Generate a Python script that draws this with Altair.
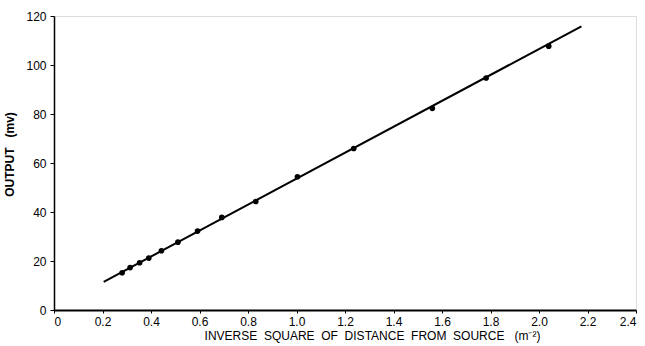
import altair as alt
import pandas as pd

# measured points (x: inverse square distance, y: output mV)
pts_x = [0.281, 0.314, 0.353, 0.391, 0.443, 0.511, 0.592, 0.692, 0.832, 1.004, 1.236, 1.560, 1.782, 2.040]
pts_y = [15.2, 17.3, 19.3, 21.2, 24.2, 27.7, 32.2, 37.8, 44.3, 54.4, 65.9, 82.3, 94.7, 107.7]

# fitted line end points
line_x = [0.205, 2.175]
line_y = [11.5, 115.8]

x_ticks = [0, 0.2, 0.4, 0.6, 0.8, 1.0, 1.2, 1.4, 1.6, 1.8, 2.0, 2.2, 2.4]
y_ticks = [0, 20, 40, 60, 80, 100, 120]

pts = pd.DataFrame({"x": pts_x, "y": pts_y})
ln = pd.DataFrame({"x": line_x, "y": line_y})

FONT = "Liberation Sans"
SP = "\u00a0\u00a0"

xscale = alt.Scale(domain=[0, 2.4], nice=False, zero=False)
yscale = alt.Scale(domain=[0, 120], nice=False, zero=False)

xaxis = alt.Axis(
    values=x_ticks,
    labelExpr="datum.value == 0 ? '0' : format(datum.value, '.1f')",
    grid=False,
    title=SP.join(["INVERSE", "SQUARE", "OF", "DISTANCE", "FROM", "SOURCE", "\u00a0(m\u207b\u00b2)"]),
    titleFont=FONT, titleFontSize=12, titleFontWeight="normal", titleColor="black",
    titleX=318, titleY=20, titleAnchor="middle",
    labelFont=FONT, labelFontSize=12, labelColor="black", labelPadding=3,
    domainColor="black", domainWidth=2, tickColor="black", tickSize=3,
)
yaxis = alt.Axis(
    values=y_ticks, format="d", grid=False,
    title="OUTPUT" + SP + "\u00a0(mv)",
    titleFont=FONT, titleFontSize=12, titleFontWeight="bold", titleColor="black",
    titleX=-38, titleY=138, titleAnchor="middle",
    labelFont=FONT, labelFontSize=12, labelColor="black", labelPadding=4,
    domainColor="black", domainWidth=1.5, tickColor="black", tickSize=4,
)

line = alt.Chart(ln).mark_line(color="black", strokeWidth=2).encode(
    x=alt.X("x:Q", scale=xscale, axis=xaxis),
    y=alt.Y("y:Q", scale=yscale, axis=yaxis),
)
points = alt.Chart(pts).mark_circle(color="black", size=32, opacity=1).encode(
    x=alt.X("x:Q", scale=xscale),
    y=alt.Y("y:Q", scale=yscale),
)

chart = (line + points).properties(
    width=582, height=294,
    autosize=alt.AutoSizeParams(type="none"),
    padding={"left": 54, "top": 16, "right": 9, "bottom": 36},
).configure_view(stroke="black", strokeWidth=1.5).configure(background="white")

chart.save("out.html", embed_options={"renderer": "svg", "actions": False})
